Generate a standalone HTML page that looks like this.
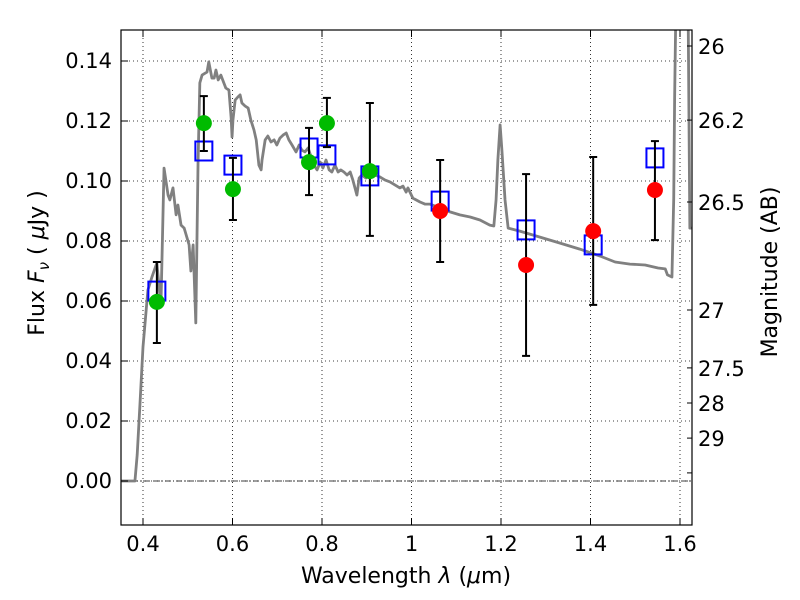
<!DOCTYPE html>
<html><head><meta charset="utf-8"><style>
body{margin:0;background:#fff;}
svg{display:block;font-family:"DejaVu Sans","Liberation Sans",sans-serif;}
</style></head><body>
<svg id="chart" width="800" height="600" xmlns="http://www.w3.org/2000/svg">
<defs><clipPath id="clip"><rect x="121" y="30" width="571" height="495"/></clipPath></defs>
<rect width="800" height="600" fill="#fff"/>
<g id="grid"></g>
<g id="plot" clip-path="url(#clip)"></g>
<g id="axes"></g>
<text x="406" y="583" font-size="22" text-anchor="middle">Wavelength  <tspan font-style="italic">λ</tspan> (<tspan font-style="italic">μ</tspan>m)</text>
<text transform="translate(44,263) rotate(-90)" font-size="22" text-anchor="middle">Flux  <tspan font-style="italic">F</tspan><tspan font-style="italic" font-size="15" dy="5">ν</tspan><tspan dy="-5">  ( </tspan><tspan font-style="italic">μ</tspan>Jy )</text>
<text transform="translate(777,272) rotate(-90)" font-size="22" text-anchor="middle">Magnitude (AB)</text>
</svg>
<script>
const specLam=[0.351,0.382,0.387,0.393,0.400,0.411,0.420,0.431,0.440,0.447,0.456,0.460,0.467,0.474,0.478,0.485,0.492,0.503,0.507,0.512,0.518,0.523,0.527,0.532,0.543,0.547,0.554,0.559,0.563,0.568,0.574,0.585,0.592,0.597,0.599,0.601,0.606,0.612,0.617,0.621,0.628,0.635,0.641,0.648,0.653,0.659,0.664,0.666,0.673,0.679,0.686,0.693,0.699,0.706,0.713,0.720,0.726,0.733,0.742,0.749,0.755,0.762,0.769,0.775,0.782,0.789,0.796,0.802,0.809,0.816,0.822,0.829,0.836,0.842,0.849,0.856,0.863,0.869,0.878,0.883,0.889,0.898,0.907,0.918,0.930,0.941,0.952,0.963,0.974,0.981,0.988,0.992,1.003,1.019,1.030,1.041,1.064,1.086,1.108,1.131,1.153,1.175,1.184,1.189,1.193,1.198,1.202,1.209,1.216,1.242,1.287,1.332,1.376,1.421,1.455,1.488,1.522,1.551,1.567,1.572,1.582,1.586,1.588,1.591,1.618,1.622,1.629];
const specFlux=[0,0,0.0087,0.025,0.0447,0.0637,0.068,0.0727,0.058,0.1043,0.0953,0.0937,0.0977,0.0887,0.092,0.0853,0.0843,0.0787,0.07,0.0787,0.0527,0.106,0.1327,0.1353,0.1363,0.1397,0.1343,0.1343,0.137,0.1337,0.1353,0.131,0.1303,0.121,0.1147,0.1203,0.127,0.128,0.1287,0.126,0.125,0.1243,0.1203,0.117,0.1137,0.1053,0.1037,0.107,0.1137,0.115,0.113,0.1137,0.112,0.1143,0.1153,0.116,0.1137,0.112,0.1097,0.112,0.1103,0.1097,0.111,0.1083,0.1053,0.1037,0.1063,0.1043,0.107,0.1037,0.103,0.1053,0.103,0.1037,0.103,0.102,0.103,0.1003,0.0953,0.101,0.102,0.101,0.1037,0.102,0.1013,0.1003,0.0997,0.0987,0.0977,0.0983,0.0963,0.0977,0.0943,0.093,0.0923,0.0923,0.091,0.0897,0.0887,0.088,0.087,0.0853,0.085,0.0937,0.107,0.1187,0.1103,0.0937,0.0843,0.0833,0.0813,0.0793,0.0773,0.075,0.073,0.0723,0.072,0.071,0.0707,0.0687,0.068,0.0943,0.1277,0.16,0.16,0.0843,0.0843];
const modelLam=[0.431,0.536,0.601,0.771,0.811,0.907,1.064,1.256,1.406,1.544];
const modelFlux=[0.0633,0.110,0.1053,0.111,0.1087,0.1017,0.0933,0.0837,0.0787,0.1077];
const greenLam=[0.431,0.536,0.601,0.771,0.811,0.907];
const greenFlux=[0.0597,0.1193,0.0973,0.1063,0.1193,0.1033];
const greenLo=[0.046,0.110,0.087,0.0953,0.1113,0.0817];
const greenHi=[0.073,0.1283,0.1077,0.1177,0.1277,0.126];
const redLam=[1.064,1.256,1.406,1.544];
const redFlux=[0.090,0.072,0.0833,0.097];
const redLo=[0.073,0.0417,0.0587,0.0803];
const redHi=[0.107,0.1023,0.108,0.1133];
const xTicks=[0.4,0.6,0.8,1.0,1.2,1.4,1.6];
const xTickLabels=["0.4","0.6","0.8","1","1.2","1.4","1.6"];
const yTicks=[0,0.02,0.04,0.06,0.08,0.10,0.12,0.14];
const yTickLabels=["0.00","0.02","0.04","0.06","0.08","0.10","0.12","0.14"];
const magLabels=["26","26.2","26.5","27","27.5","28","29",""];
const magFlux=[0.145,0.1203,0.093,0.057,0.0377,0.026,0.0143,0.0027];

const X0=121,X1=692,Y0=30,Y1=525;
const xs=v=>143+(v-0.4)*447.5;
const ys=v=>481-v*3000;
const NS="http://www.w3.org/2000/svg";
function mk(tag,attrs,parent){const e=document.createElementNS(NS,tag);for(const k in attrs)e.setAttribute(k,attrs[k]);parent.appendChild(e);return e;}
const grid=document.getElementById('grid'),plot=document.getElementById('plot'),axes=document.getElementById('axes');
xTicks.forEach((t,i)=>{
  const g=mk('line',{x1:xs(t),x2:xs(t),y1:Y0,y2:Y1,stroke:'#000','stroke-width':0.8,'stroke-dasharray':'1,3'},grid);
  
  
  const tk=mk('line',{x1:xs(t),x2:xs(t),y1:Y1,y2:Y1-7,stroke:'#000','stroke-width':1},axes);
  
  
  const tk2=mk('line',{x1:xs(t),x2:xs(t),y1:Y0,y2:Y0+7,stroke:'#000','stroke-width':1},axes);
  
  
  const l=mk('text',{x:xs(t),y:Y1+26,'font-size':21,'text-anchor':'middle'},axes);
  l.textContent=xTickLabels[i];
  
  
});
yTicks.forEach((t,i)=>{
  const g=mk('line',{x1:X0,x2:X1,y1:ys(t),y2:ys(t),stroke:'#000','stroke-width':0.8,'stroke-dasharray':'1,3'},grid);
  
  
  const tk=mk('line',{x1:X0,x2:X0+7,y1:ys(t),y2:ys(t),stroke:'#000','stroke-width':1},axes);
  
  
  const l=mk('text',{x:X0-9,y:ys(t)+7,'font-size':21,'text-anchor':'end'},axes);
  l.textContent=yTickLabels[i];
  
  
});
magFlux.forEach((f,i)=>{
  const tk=mk('line',{x1:X1,x2:X1-5,y1:ys(f),y2:ys(f),stroke:'#000','stroke-width':1},axes);
  
  
  if(magLabels[i]){
    const l=mk('text',{x:X1+6,y:ys(f)+8,'font-size':21},axes);
    l.textContent=magLabels[i];
    
    
  }
});
const zl=mk('line',{x1:X0,x2:X1,y1:ys(0),y2:ys(0),stroke:'#000','stroke-width':0.8,'stroke-dasharray':'6,2,1,2'},plot);


const sp=mk('polyline',{points:specLam.map((l,i)=>xs(l)+','+ys(specFlux[i])).join(' '),fill:'none',stroke:'#808080','stroke-width':2.8,'stroke-linejoin':'round'},plot);


function errbar(l,lo,hi,name){
  const x=xs(l);
  const g=mk('g',{},plot);
  
  
  mk('line',{x1:x,x2:x,y1:ys(lo),y2:ys(hi),stroke:'#000','stroke-width':2},g);
  mk('line',{x1:x-4,x2:x+4,y1:ys(lo),y2:ys(lo),stroke:'#000','stroke-width':2},g);
  mk('line',{x1:x-4,x2:x+4,y1:ys(hi),y2:ys(hi),stroke:'#000','stroke-width':2},g);
}
modelLam.forEach((l,i)=>{
  const r=mk('rect',{x:xs(l)-8.5,y:ys(modelFlux[i])-9.5,width:17,height:19,fill:'none',stroke:'#0000ff','stroke-width':2},plot);
  
  
});
greenLam.forEach((l,i)=>{
  errbar(l,greenLo[i],greenHi[i],'green-errorbar');
  const c=mk('circle',{cx:xs(l),cy:ys(greenFlux[i]),r:8,fill:'#00bb00'},plot);
  
  
});
redLam.forEach((l,i)=>{
  errbar(l,redLo[i],redHi[i],'red-errorbar');
  const c=mk('circle',{cx:xs(l),cy:ys(redFlux[i]),r:8,fill:'#ff0000'},plot);
  
  
});
const fr=mk('rect',{x:X0,y:Y0,width:X1-X0,height:Y1-Y0,fill:'none',stroke:'#000','stroke-width':1.2},axes);


</script>
</body></html>
